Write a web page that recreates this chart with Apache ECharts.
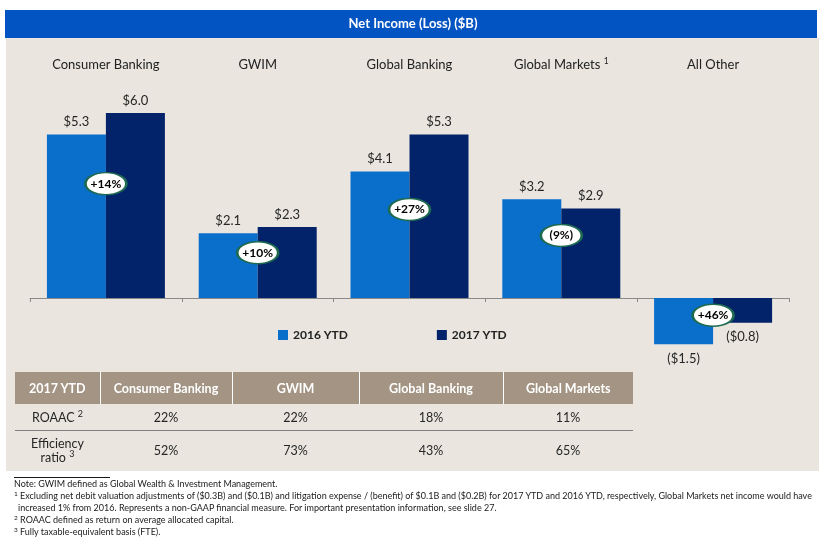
<!DOCTYPE html>
<html><head><meta charset="utf-8">
<script src="https://cdn.jsdelivr.net/npm/echarts@6/dist/echarts.min.js"></script>
<style>
html,body{margin:0;padding:0;background:#fff;}
#wrap{position:relative;width:827px;height:538px;font-family:Lato,'Open Sans',sans-serif;overflow:hidden;}
#chart{position:absolute;left:0;top:0;width:827px;height:538px;}
#tbl{position:absolute;left:15px;top:372px;}
#tbl table{border-collapse:collapse;table-layout:fixed;width:618px;font-family:Lato,sans-serif;font-size:12.5px;}
#tbl th{background:#A39483;color:#fff;font-weight:bold;height:32px;padding:0;border-left:1px solid #fff;text-align:center;}
#tbl th:first-child{border-left:none;}
#tbl td{color:#262626;text-align:center;padding:0;}
#tbl tr.r1 td{height:26px;border-bottom:1px solid #808080;}
#tbl tr.r2 td{height:40px;line-height:14px;}
#tbl sup{font-size:9px;vertical-align:5px;line-height:0;}
#notes{position:absolute;left:14px;top:478px;font-family:Lato,sans-serif;font-size:9px;line-height:12px;color:#1a1a1a;white-space:nowrap;}
#notes sup{font-size:6.5px;vertical-align:3px;line-height:0;}
#notes .ind{padding-left:4px;}
</style></head><body>
<div id="wrap"><div id="chart"></div><div id="tbl"></div><div id="notes"></div></div>
<script>
// ---- data ----
const categories = ['Consumer Banking', 'GWIM', 'Global Banking', 'Global Markets', 'All Other'];
const categoryNotes = ['', '', '', '1', ''];
const ytd2016 = [5.3, 2.1, 4.1, 3.2, -1.5];
const ytd2017 = [6.0, 2.3, 5.3, 2.9, -0.8];
const changeLabels = ['+14%', '+10%', '+27%', '(9%)', '+46%'];
const seriesNames = ['2016 YTD', '2017 YTD'];
const tableColumns = ['2017 YTD', 'Consumer Banking', 'GWIM', 'Global Banking', 'Global Markets'];
const roaac = ['22%', '22%', '18%', '11%'];
const efficiency = ['52%', '73%', '43%', '65%'];
const title = 'Net Income (Loss) ($B)';

// ---- table ----
const colW = [85, 132, 127, 144, 130];
let h = '<table><colgroup>' + colW.map(w => '<col style="width:' + w + 'px">').join('') + '</colgroup>';
h += '<tr>' + tableColumns.map(c => '<th>' + c + '</th>').join('') + '</tr>';
h += '<tr class="r1"><td>ROAAC <sup>2</sup></td>' + roaac.map(v => '<td>' + v + '</td>').join('') + '</tr>';
h += '<tr class="r2"><td>Efficiency<br>ratio <sup>3</sup></td>' + efficiency.map(v => '<td>' + v + '</td>').join('') + '</tr>';
h += '</table>';
document.getElementById('tbl').innerHTML = h;

document.getElementById('notes').innerHTML =
  '<div>Note: GWIM defined as Global Wealth &amp; Investment Management.</div>' +
  '<div><sup>1</sup> Excluding net debit valuation adjustments of ($0.3B) and ($0.1B) and litigation expense / (benefit) of $0.1B and ($0.2B) for 2017 YTD and 2016 YTD, respectively, Global Markets net income would have</div>' +
  '<div class="ind">increased 1% from 2016. Represents a non-GAAP financial measure. For important presentation information, see slide 27.</div>' +
  '<div><sup>2</sup> ROAAC defined as return on average allocated capital.</div>' +
  '<div><sup>3</sup> Fully taxable-equivalent basis (FTE).</div>';

// ---- chart ----
const fmt = v => v >= 0 ? '$' + v.toFixed(1) : '($' + Math.abs(v).toFixed(1) + ')';
const barData = arr => arr.map(v => ({ value: v, label: { position: v >= 0 ? 'top' : 'bottom', distance: v >= 0 ? 6 : 8 } }));
const ovalData = ytd2016.map((a, i) => {
  const b = ytd2017[i];
  const m = Math.min(Math.abs(a), Math.abs(b));
  return [categories[i], (a >= 0 ? 1 : -1) * 0.7 * m];
});
const ellipse = 'path://M0,50 C0,22.4 22.4,0 50,0 C77.6,0 100,22.4 100,50 C100,77.6 77.6,100 50,100 C22.4,100 0,77.6 0,50 Z';

const chart = echarts.init(document.getElementById('chart'), null, { renderer: 'canvas' });
const labelStyle = { show: true, formatter: p => fmt(p.value), color: '#262626', fontSize: 13, fontFamily: 'Lato' };
chart.setOption({
  animation: false,
  backgroundColor: '#ffffff',
  textStyle: { fontFamily: 'Lato' },
  graphic: { elements: [
    { type: 'rect', z: -10, shape: { x: 6, y: 38, width: 813, height: 433 }, style: { fill: '#EAE6DF' } },
    { type: 'rect', z: -9, shape: { x: 5, y: 10, width: 812, height: 28 }, style: { fill: '#0254C3' } },
    { type: 'text', z: 10, x: 413, y: 24, style: { text: title, fill: '#ffffff', font: 'bold 13px Lato', textAlign: 'center', textVerticalAlign: 'middle' } },
    { type: 'line', z: 10, shape: { x1: 14, y1: 477.5, x2: 110, y2: 477.5 }, style: { stroke: '#1a1a1a', lineWidth: 1 } }
  ] },
  legend: {
    data: seriesNames, left: 273, top: 324, icon: 'rect', itemWidth: 10, itemHeight: 10, itemGap: 89,
    textStyle: { fontFamily: 'Lato', fontWeight: 'bold', fontSize: 12, color: '#222' }, selectedMode: false
  },
  grid: { left: 30, right: 38, top: 82.2, height: 277.5 },
  xAxis: [
    { type: 'category', data: categories,
      axisLine: { onZero: true, lineStyle: { color: '#8a8a8a', width: 1 } },
      axisTick: { show: true, length: 4, lineStyle: { color: '#8a8a8a' } },
      axisLabel: { show: false } },
    { type: 'category', data: categories, position: 'top',
      axisLine: { show: false }, axisTick: { show: false },
      axisLabel: { interval: 0, margin: 9, fontSize: 13, lineHeight: 16, color: '#222', fontFamily: 'Lato',
        formatter: (v, i) => categoryNotes[i] ? v + ' {sup|' + categoryNotes[i] + '}' : v,
        rich: { sup: { fontSize: 8.5, lineHeight: 6, verticalAlign: 'top', color: '#222', fontFamily: 'Lato' } } } }
  ],
  yAxis: { type: 'value', min: -2, max: 7, show: false },
  series: [
    { name: seriesNames[0], type: 'bar', data: barData(ytd2016), barWidth: 59, barGap: '0%',
      itemStyle: { color: '#0A6ECB' }, label: labelStyle },
    { name: seriesNames[1], type: 'bar', data: barData(ytd2017), barWidth: 59, barGap: '0%',
      itemStyle: { color: '#02226A' }, label: labelStyle },
    { type: 'scatter', data: ovalData, symbol: ellipse, symbolSize: [41, 22], symbolKeepAspect: false, z: 5,
      itemStyle: { color: '#ffffff', borderColor: '#1D6A50', borderWidth: 2, opacity: 1 },
      label: { show: true, position: 'inside', formatter: p => changeLabels[p.dataIndex], color: '#000', fontWeight: 'bold', fontSize: 12, fontFamily: 'Lato' } }
  ]
});
</script>
</body></html>
